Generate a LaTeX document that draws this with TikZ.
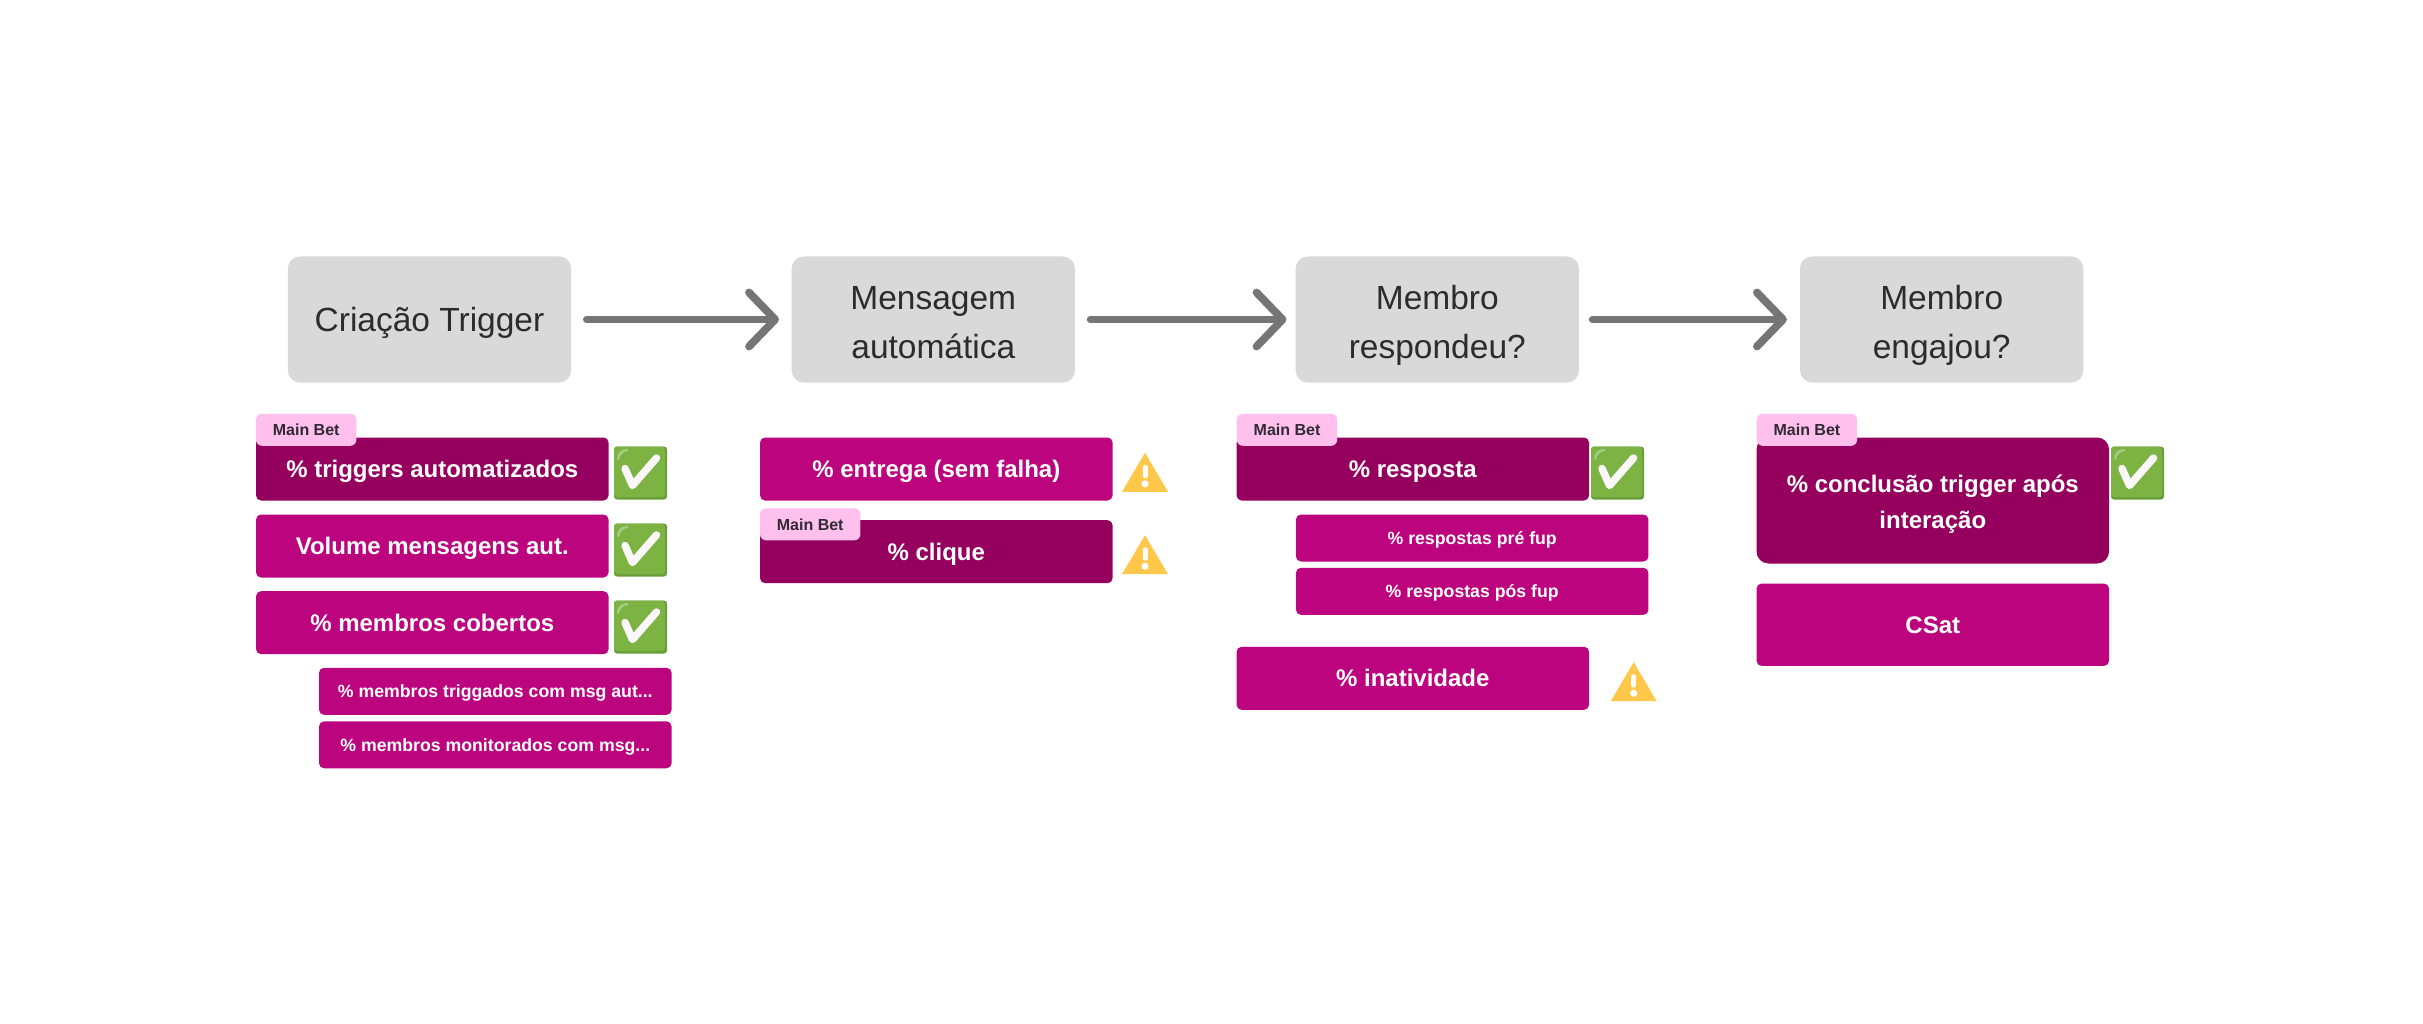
\documentclass[tikz,border=0pt]{standalone}
\usepackage{fontspec}
\setmainfont{Liberation Sans}
\usetikzlibrary{arrows.meta}
\definecolor{flowgrey}{HTML}{D9D9D9}
\definecolor{flowtext}{HTML}{2C2C2C}
\definecolor{arrowgrey}{HTML}{757575}
\definecolor{barpink}{HTML}{BC047F}
\definecolor{bardark}{HTML}{95005F}
\definecolor{tagpink}{HTML}{FFC0ED}
\definecolor{tagtext}{HTML}{2F2A33}
\definecolor{warnyellow}{HTML}{FFC84A}
\definecolor{okgreen}{HTML}{7CB342}
\definecolor{okdark}{HTML}{689F38}
\definecolor{oklight}{HTML}{A5CC82}
\definecolor{okwhite}{HTML}{FAF8F9}
\newcommand{\twolines}[3]{\rule{0pt}{#1pt}\smash{#2}\\\smash{#3}}
\tikzset{
  flowbox/.style={fill=flowgrey,rounded corners=12pt,inner sep=0pt,minimum width=283.3pt,minimum height=126pt,text=flowtext,align=center,font=\fontsize{33.5}{48}\selectfont},
  flowarrow/.style={draw=arrowgrey,line width=7.8pt,line cap=round,-{Straight Barb[length=26pt,width=54pt,round]}},
  kpi/.style={rounded corners=5pt,inner sep=0pt,minimum width=352.5pt,minimum height=63pt,text=white,align=center,font=\fontsize{24}{36}\selectfont\bfseries,text height=17.2pt,text depth=0pt},
  kpimain/.style={kpi,fill=bardark},
  kpiplain/.style={kpi,fill=barpink},
  kpisub/.style={kpi,fill=barpink,minimum height=47pt,font=\fontsize{17.7}{27}\selectfont\bfseries,text height=13pt},
  kpitag/.style={fill=tagpink,rounded corners=6pt,inner sep=0pt,minimum width=100.4pt,minimum height=32pt,text=tagtext,font=\fontsize{16}{20}\selectfont\bfseries,text height=11.5pt,text depth=0pt},
  okmark/.pic={
    \fill[okdark,rounded corners=3pt] (0,0) rectangle (53,53);
    \fill[okgreen,rounded corners=3pt] (0,0) rectangle (51,50.5);
    \fill[oklight] (3,13) .. controls (3,6) and (7,2.5) .. (14,2.5) -- (14,4.5) .. controls (9,5) and (6,8) .. (5,13) -- cycle;
    \draw[okwhite,line width=7.5pt,line cap=round,line join=round] (11,22) -- (18.5,39) -- (42.5,11.5);
  },
  warnmark/.pic={
    \fill[warnyellow] (23,0) -- (46,39) -- (0,39) -- cycle;
    \draw[white,line width=5pt,line cap=round] (23,14.5) -- (23,23);
    \fill[white] (23,31) circle (3.6);
  }
}
\begin{document}
\begin{tikzpicture}[x=1pt,y=-1pt]
\useasboundingbox (0,-0.5) rectangle (2423,1023.5);
\fill[white] (0,-0.5) rectangle (2423,1023.5);
% flow boxes
\node[flowbox,text height=24.5pt,text depth=0pt] (b1) at (429.5,319) {Criação Trigger};
\node[flowbox] (b2) at (933.3,319) {\twolines{29}{Mensagem}{automática}};
\node[flowbox] (b3) at (1437.3,319) {\twolines{29}{Membro}{respondeu?}};
\node[flowbox] (b4) at (1941.7,319) {\twolines{29}{Membro}{engajou?}};
% connectors
\draw[flowarrow,shorten <=15.5pt,shorten >=12.5pt] (b1) -- (b2);
\draw[flowarrow,shorten <=15.5pt,shorten >=9pt] (b2) -- (b3);
\draw[flowarrow,shorten <=13.5pt,shorten >=13pt] (b3) -- (b4);
% column 1
\node[kpimain] (k11) at (432.3,468.5) {\% triggers automatizados};
\node[kpiplain] (k12) at (432.3,545.5) {Volume mensagens aut.};
\node[kpiplain] (k13) at (432.3,622.2) {\% membros cobertos};
\node[kpisub] (k14) at (495.3,690.8) {\% membros triggados com msg aut...};
\node[kpisub] (k15) at (495.3,744.3) {\% membros monitorados com msg...};
\node[kpitag] (t1) at (306.2,429.3) {Main Bet};
\pic at (614,446) {okmark};
\pic at (614,523) {okmark};
\pic at (614,600) {okmark};
% column 2
\node[kpiplain] (k21) at (936.3,468.5) {\% entrega (sem falha)};
\node[kpimain] (k22) at (936.3,551.2) {\% clique};
\node[kpitag] (t2) at (810.2,523.8) {Main Bet};
\pic at (1122,452.3) {warnmark};
\pic at (1122,534.7) {warnmark};
% column 3
\node[kpimain] (k31) at (1412.8,468.5) {\% resposta};
\node[kpisub] (k32) at (1472.2,537.5) {\% respostas pré fup};
\node[kpisub] (k33) at (1472.2,590.8) {\% respostas pós fup};
\node[kpiplain] (k34) at (1412.8,677.8) {\% inatividade};
\node[kpitag] (t3) at (1287,429.3) {Main Bet};
\pic at (1591,446) {okmark};
\pic at (1610.7,661.7) {warnmark};
% column 4
\node[kpimain,rounded corners=12pt,minimum height=126pt,text height=,text depth=] (k41) at (1932.8,500) {\twolines{20}{\% conclusão trigger após}{interação}};
\node[kpiplain,minimum height=82.3pt] (k42) at (1932.8,624.2) {CSat};
\node[kpitag] (t4) at (1806.9,429.3) {Main Bet};
\pic at (2111,446) {okmark};
\end{tikzpicture}
\end{document}
